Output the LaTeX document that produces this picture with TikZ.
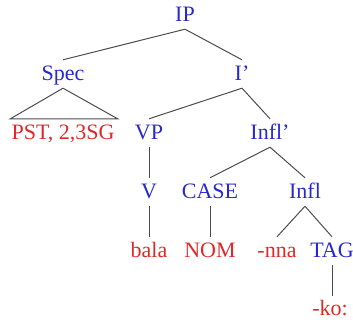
\documentclass[tikz,border=0pt]{standalone}
\usepackage{fontspec}
\setmainfont{LiberationSerif}[Extension=.ttf, UprightFont=*-Regular, BoldFont=*-Bold]
\usepackage{tikz}
\definecolor{catblue}{RGB}{40,40,210}
\definecolor{wordred}{RGB}{225,40,40}

\begin{document}
\begin{tikzpicture}[x=1pt, y=-1pt, node distance = 59pt,
  cat/.style={text=catblue, font=\rmfamily\fontsize{22}{24}\selectfont, text height=14pt, text depth=0pt, inner xsep=0pt, inner ysep=7pt},
  word/.style={cat, text=wordred},
  branch/.style={draw=black!70, line width=1pt}]
\useasboundingbox (0,0) rectangle (353,320);

\node [cat] (ip) at (185,15) {IP};
\node [cat, below of=ip, xshift=-122pt] (spec) {Spec};
\node [cat, below of=ip, xshift=57pt] (ibar) {I'};
\node [word, below of=spec] (pst) {PST, 2,3SG};
\node [cat, below of=ibar, xshift=-93pt] (vp) {VP};
\node [cat, below of=ibar, xshift=28pt] (inflbar) {Infl'};
\node [cat, below of=vp] (v) {V};
\node [cat, below of=inflbar, xshift=-60pt] (case) {CASE};
\node [cat, below of=inflbar, xshift=35pt] (infl) {Infl};
\node [word, below of=v] (bala) {bala};
\node [word, below of=case] (nom) {NOM};
\node [word, below of=infl, xshift=-28pt] (nna) {-nna};
\node [cat, below of=infl, xshift=27pt] (tag) {TAG};
\node [word, below of=tag, node distance=57pt, xshift=-2pt, inner ysep=5pt] (ko) {-ko:};

\draw [branch] (ip.south) -- (spec.north);
\draw [branch] (ip.south) -- (ibar.north);
\draw [branch] (spec.south) -- ([xshift=-1pt]pst.north west) -- ([xshift=3pt]pst.north east) -- cycle;
\draw [branch] (ibar.south) -- (vp.north);
\draw [branch] (ibar.south) -- (inflbar.north);
\draw [branch] (vp.south) -- (v.north);
\draw [branch] (inflbar.south) -- (case.north);
\draw [branch] (inflbar.south) -- (infl.north);
\draw [branch] (v.south) -- (bala.north);
\draw [branch] (case.south) -- (nom.north);
\draw [branch] (infl.south) -- (nna.north);
\draw [branch] (infl.south) -- (tag.north);
\draw [branch] (tag.south) -- ([xshift=2pt]ko.north);

\end{tikzpicture}
\end{document}
